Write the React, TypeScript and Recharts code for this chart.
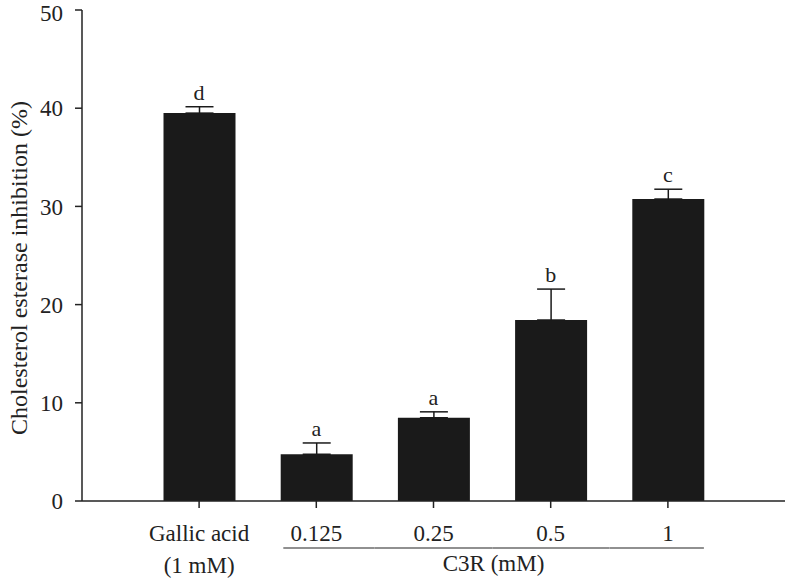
import { ComposedChart, Bar, Line, XAxis, YAxis, ErrorBar, LabelList } from "recharts";

const categories = ["Gallic acid", "0.125", "0.25", "0.5", "1"];
const inhibition = [39.5, 4.76, 8.48, 18.43, 30.75];
const errors = [0.65, 1.15, 0.6, 3.15, 1.0];
const letters = ["d", "a", "a", "b", "c"];
const yTicks = [0, 10, 20, 30, 40, 50];
const groupLabel = "C3R (mM)";
const gallicSub = "(1 mM)";

const data = categories.map((name, i) => ({
  name,
  value: inhibition[i],
  // upward-only error bars, like the original figure
  err: [0, errors[i]],
  top: inhibition[i] + errors[i],
  letter: letters[i],
}));

const font = "'Liberation Serif', 'Times New Roman', serif";
const ink = "#222";
const barFill = "#1a1a1a";
const halfBand = 58.5;

function CategoryTick(props: any) {
  const { x, y, payload, index } = props;
  const isGallic = index === 0;
  const isFirst = index === 1;
  const isLast = index === categories.length - 1;
  return (
    <g>
      <text x={x} y={y + 31} textAnchor="middle" fontFamily={font} fontSize={23} fill={ink}>
        {payload.value}
      </text>
      {isGallic && (
        <text x={x} y={y + 63} textAnchor="middle" fontFamily={font} fontSize={23} fill={ink}>
          {gallicSub}
        </text>
      )}
      {!isGallic && (
        <line
          x1={isFirst ? x - 33 : x - halfBand}
          x2={isLast ? x + 36 : x + halfBand}
          y1={y + 38}
          y2={y + 38}
          stroke={ink}
          strokeWidth={1.2}
        />
      )}
      {index === 2 && (
        <text x={x + 60} y={y + 61} textAnchor="middle" fontFamily={font} fontSize={23} fill={ink}>
          {groupLabel}
        </text>
      )}
    </g>
  );
}

export default function App() {
  return (
    <div style={{ position: "absolute", left: 0, top: 0, width: 787, height: 579, background: "#fff" }}>
      <ComposedChart width={787} height={579} data={data} margin={{ top: 10, right: 2, bottom: 0, left: 0 }}>
        <XAxis
          dataKey="name"
          height={78}
          padding={{ left: halfBand, right: halfBand }}
          tick={<CategoryTick />}
          tickSize={7}
          interval={0}
          stroke={ink}
          strokeWidth={1.5}
        />
        <YAxis
          domain={[0, 50]}
          ticks={yTicks}
          width={82}
          tickSize={7}
          tickMargin={12}
          stroke={ink}
          strokeWidth={1.5}
          tick={{ fontFamily: font, fontSize: 23, fill: ink }}
          label={{
            content: () => (
              <text
                transform="translate(27, 268) rotate(-90)"
                textAnchor="middle"
                fontFamily={font}
                fontSize={24}
                fill={ink}
              >
                Cholesterol esterase inhibition (%)
              </text>
            ),
          }}
        />
        <Bar dataKey="value" fill={barFill} barSize={72} isAnimationActive={false}>
          <ErrorBar dataKey="err" width={14} stroke={barFill} strokeWidth={1.5} direction="y" />
        </Bar>
        <Line dataKey="top" stroke="none" dot={false} activeDot={false} isAnimationActive={false}>
          <LabelList dataKey="letter" position="top" offset={7} fontFamily={font} fontSize={22} fill={ink} />
        </Line>
      </ComposedChart>
    </div>
  );
}
